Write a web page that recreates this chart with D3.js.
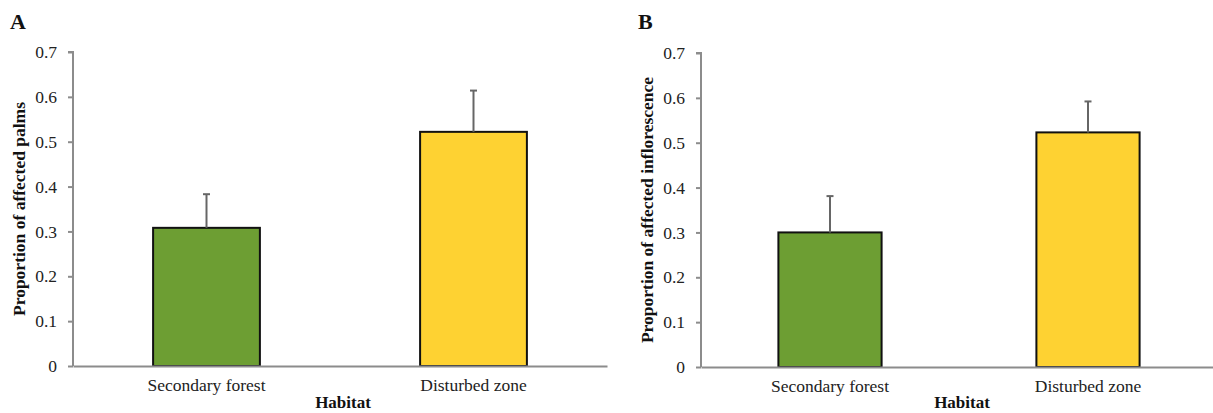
<!DOCTYPE html>
<html>
<head>
<meta charset="utf-8">
<script src="https://cdn.jsdelivr.net/npm/d3@7"></script>
<style>
  body { margin: 0; background: #fff; }
  svg { display: block; font-family: "Liberation Serif", "Times New Roman", serif; }
</style>
</head>
<body>
<svg id="chart" width="1213" height="413"></svg>
<script>
const habitats = ["Secondary forest", "Disturbed zone"];
const palmsMean = [0.308, 0.522];
const palmsErr = [0.075, 0.092];
const inflorMean = [0.300, 0.523];
const inflorErr = [0.081, 0.069];
const yTicks = [0, 0.1, 0.2, 0.3, 0.4, 0.5, 0.6, 0.7];
const barColors = ["#6d9e33", "#fed232"];

const svg = d3.select("#chart");

function drawPanel(letter, yTitle, means, errs, box) {
  const g = svg.append("g");

  const x = d3.scaleBand()
    .domain(habitats)
    .range([box.left, box.right])
    .paddingInner(0.6)
    .paddingOuter(0.3);

  const y = d3.scaleLinear()
    .domain([0, 0.7])
    .range([box.bottom, box.top]);

  // y axis
  const yAxis = g.append("g")
    .attr("transform", `translate(${box.left},0)`)
    .call(d3.axisLeft(y).tickValues(yTicks).tickSize(5).tickPadding(11)
      .tickFormat(d => d === 0 ? "0" : d3.format(".1f")(d)));
  yAxis.select(".domain").attr("stroke", "#8c8c8c").attr("stroke-width", 2)
    .attr("d", `M-5,${box.top}H0V${box.bottom}`);
  yAxis.selectAll(".tick line").attr("stroke", "#8c8c8c").attr("stroke-width", 2);
  yAxis.selectAll(".tick text").attr("font-size", 17.5).attr("fill", "#222")
    .attr("font-family", "Liberation Serif");

  // bars
  g.selectAll(".bar")
    .data(means)
    .join("rect")
    .attr("class", "bar")
    .attr("x", (d, i) => x(habitats[i]))
    .attr("y", d => y(d))
    .attr("width", x.bandwidth())
    .attr("height", d => y(0) - y(d))
    .attr("fill", (d, i) => barColors[i])
    .attr("stroke", "#111")
    .attr("stroke-width", 2);

  // error bars (upper only)
  g.selectAll(".err")
    .data(means)
    .join("line")
    .attr("class", "err")
    .attr("x1", (d, i) => x(habitats[i]) + x.bandwidth() / 2)
    .attr("x2", (d, i) => x(habitats[i]) + x.bandwidth() / 2)
    .attr("y1", d => y(d))
    .attr("y2", (d, i) => y(d + errs[i]))
    .attr("stroke", "#666")
    .attr("stroke-width", 2);

  g.selectAll(".cap")
    .data(means)
    .join("line")
    .attr("class", "cap")
    .attr("x1", (d, i) => x(habitats[i]) + x.bandwidth() / 2 - 3.5)
    .attr("x2", (d, i) => x(habitats[i]) + x.bandwidth() / 2 + 3.5)
    .attr("y1", (d, i) => y(d + errs[i]))
    .attr("y2", (d, i) => y(d + errs[i]))
    .attr("stroke", "#666")
    .attr("stroke-width", 2);

  // x axis
  const xAxis = g.append("g")
    .attr("transform", `translate(0,${box.bottom})`)
    .call(d3.axisBottom(x).tickSize(0).tickPadding(13));
  xAxis.select(".domain").attr("stroke", "#8c8c8c").attr("stroke-width", 2);
  xAxis.selectAll(".tick text").attr("font-size", 17.5).attr("fill", "#222")
    .attr("font-family", "Liberation Serif");

  // axis titles
  g.append("text")
    .attr("x", (box.left + box.right) / 2 + 3)
    .attr("y", 408)
    .attr("text-anchor", "middle")
    .attr("font-weight", "bold")
    .attr("font-size", 17)
    .attr("fill", "#111")
    .text("Habitat");

  g.append("text")
    .attr("transform", `translate(${box.left - 48},${(box.top + box.bottom) / 2}) rotate(-90)`)
    .attr("text-anchor", "middle")
    .attr("font-weight", "bold")
    .attr("font-size", 17.5)
    .attr("fill", "#111")
    .text(yTitle);

  g.append("text")
    .attr("x", box.left - 63)
    .attr("y", 29)
    .attr("font-weight", "bold")
    .attr("font-size", 22)
    .attr("fill", "#111")
    .text(letter);
}

drawPanel("A", "Proportion of affected palms", palmsMean, palmsErr,
  {left: 73, right: 607, top: 52, bottom: 366});
drawPanel("B", "Proportion of affected inflorescence", inflorMean, inflorErr,
  {left: 701, right: 1217, top: 53, bottom: 367});
</script>
</body>
</html>
